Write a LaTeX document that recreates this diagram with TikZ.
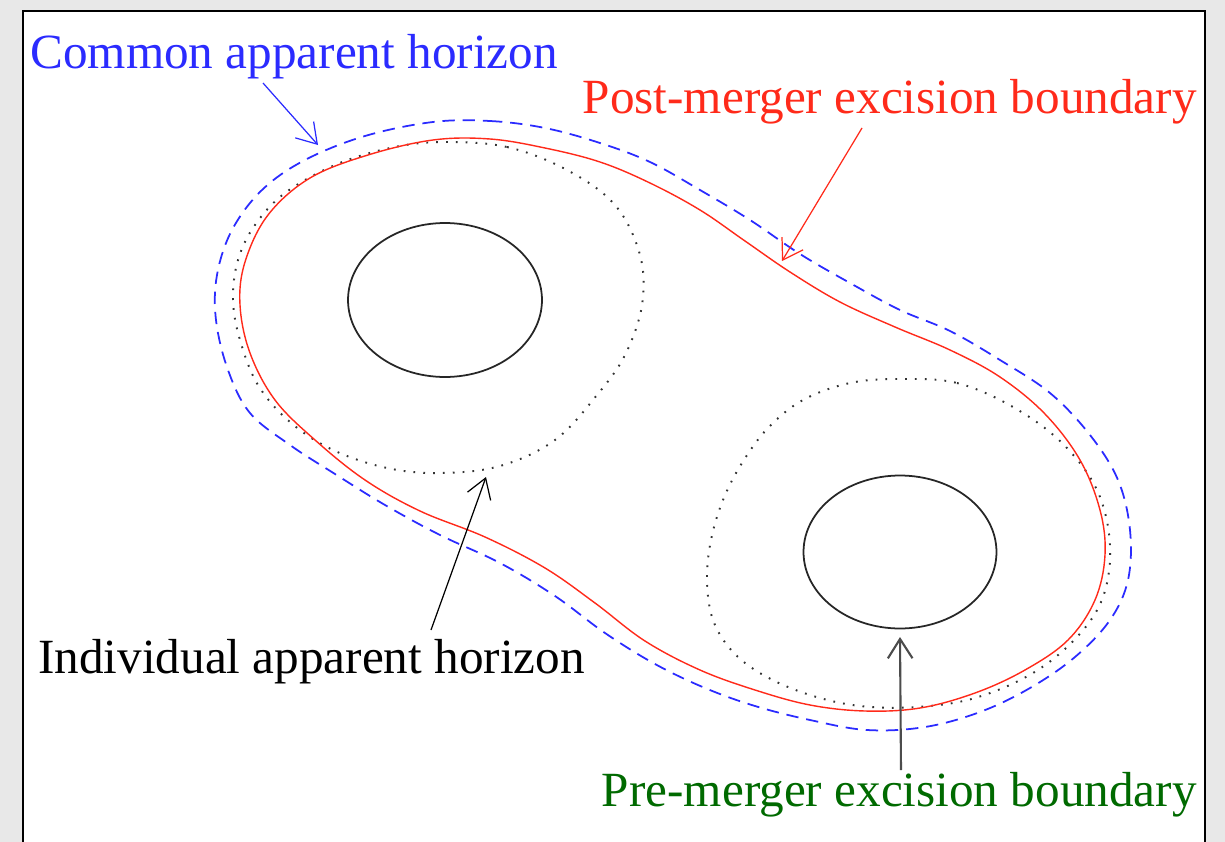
\documentclass[tikz,border=0pt]{standalone}
\usepackage{fontspec}
\setmainfont{Liberation Serif}
\usetikzlibrary{arrows.meta}
\definecolor{Backdrop}{HTML}{E8E8E8}
\definecolor{HorizonBlue}{HTML}{2B2BFF}
\definecolor{ExcisionRed}{HTML}{FF2A1A}
\definecolor{LabelGreen}{HTML}{006A00}

\begin{document}
\begin{tikzpicture}[x=0.02cm, y=-0.02cm,
    every node/.style={font=\fontsize{28}{34}\selectfont, inner sep=0pt},
    hole/.style={draw=black!85, line width=1pt},
    indiv/.style={draw=black!80, line width=1.1pt, dash pattern=on 1pt off 4.6pt},
    common/.style={draw=HorizonBlue, line width=1pt, dash pattern=on 7pt off 4.5pt},
    postex/.style={draw=ExcisionRed, line width=0.8pt},
    pointer/.style={-{Straight Barb[length=11pt, width=14pt]}, line width=0.7pt}]
  \useasboundingbox (0,0) rectangle (1225,842);
  \fill[Backdrop] (0,0) rectangle (1225,842);
  \begin{scope}
    \clip (0,0) rectangle (1225,842);
    \draw[line width=1.2pt, fill=white] (23,11) rectangle (1205,880);
  \end{scope}

  % excised holes
  \draw[hole] (445,300) ellipse [x radius=1.94cm, y radius=1.54cm];
  \draw[hole] (900,552) ellipse [x radius=1.93cm, y radius=1.53cm];

  % individual apparent horizons
  \draw[indiv] plot[smooth cycle, tension=0.6] coordinates {(442,142) (507,147) (567,170) (615,205) (640,255) (642,305) (625,355) (597,395) (555,440) (500,466) (440,473) (387,468) (333,450) (290,422) (258,385) (240,340) (233,300) (238,260) (255,225) (285,193) (335,165) (390,148)};
  \draw[indiv] plot[smooth cycle, tension=0.6] coordinates {(900,379) (957,383) (1013,407) (1062,443) (1097,490) (1110,545) (1103,597) (1077,637) (1033,673) (975,698) (917,707) (860,706) (810,695) (765,676) (733,652) (713,620) (707,580) (711,540) (723,500) (742,463) (768,428) (803,400) (850,383)};

  % post-merger excision boundary
  \draw[postex] plot[smooth cycle, tension=0.6] coordinates {(433,140) (490,139) (545,148) (600,162) (650,183) (700,210) (745,241) (790,272) (840,302) (895,327) (950,350) (1000,377) (1045,414) (1080,460) (1100,510) (1105,555) (1095,600) (1068,640) (1025,670) (975,693) (920,708) (865,711) (810,705) (755,690) (700,670) (645,641) (595,603) (545,568) (485,537) (420,511) (365,480) (315,440) (275,400) (250,353) (240,305) (245,262) (268,215) (310,178) (368,155)};

  % common apparent horizon
  \draw[common] plot[smooth cycle, tension=0.6] coordinates {(433,122) (490,121) (545,128) (600,143) (650,162) (700,190) (750,220) (800,254) (850,283) (900,310) (950,331) (1000,360) (1050,393) (1090,435) (1118,480) (1130,530) (1128,580) (1110,620) (1075,657) (1030,688) (980,712) (925,727) (867,730) (810,720) (755,706) (705,688) (655,664) (605,633) (555,596) (500,563) (440,535) (385,505) (335,474) (290,445) (250,413) (228,370) (216,320) (217,275) (232,230) (262,190) (305,160) (365,136)};

  % labels
  \node[text=HorizonBlue, anchor=base west] (cah) at (30,68) {Common apparent horizon};
  \node[text=ExcisionRed, anchor=base east] (post) at (1197,113) {Post-merger excision boundary};
  \node[text=black, anchor=base west] (iah) at (38,673) {Individual apparent horizon};
  \node[text=LabelGreen, anchor=base east] (pre) at (1197,806) {Pre-merger excision boundary};

  % arrow ends
  \coordinate (cahfrom) at (263,83);
  \coordinate (cahto)   at (318,145);
  \coordinate (postfrom) at (862,128);
  \coordinate (postto)   at (782,261);
  \coordinate (iahfrom) at (431,630);
  \coordinate (iahto)   at (486,477);
  \coordinate (prefrom) at (901,770);
  \coordinate (preto)   at (900,637);

  \foreach \a/\b/\c in {cahfrom/cahto/HorizonBlue, postfrom/postto/ExcisionRed, iahfrom/iahto/black}
    \draw[pointer, \c] (\a) -- (\b);
  \draw[pointer, black!70, line width=1.2pt] (prefrom) -- (preto);
\end{tikzpicture}
\end{document}
